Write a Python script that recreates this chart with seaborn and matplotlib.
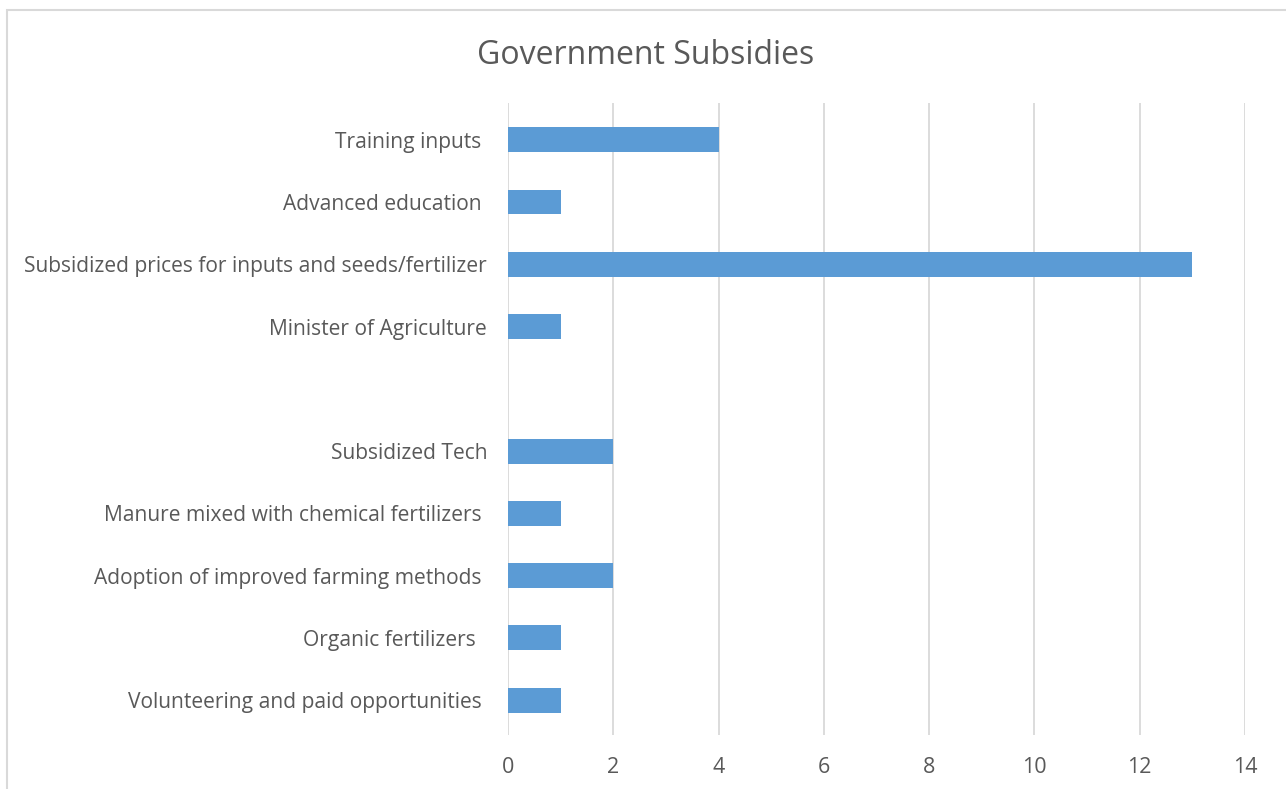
import matplotlib
matplotlib.use("Agg")
import matplotlib.pyplot as plt
import seaborn as sns
import pandas as pd
from matplotlib.patches import Rectangle

categories = [
    "Training inputs ",
    "Advanced education ",
    "Subsidized prices for inputs and seeds/fertilizer",
    "Minister of Agriculture",
    " ",
    "Subsidized Tech",
    "Manure mixed with chemical fertilizers ",
    "Adoption of improved farming methods ",
    "Organic fertilizers  ",
    "Volunteering and paid opportunities ",
]
values = [4, 1, 13, 1, 0, 2, 1, 2, 1, 1]
x_ticks = [0, 2, 4, 6, 8, 10, 12, 14]
title = "Government Subsidies"

sns.set_theme(style="white")
plt.rcParams['font.family'] = ['Open Sans', 'DejaVu Sans']
text_color = "#595959"
grid_color = "#D9D9D9"
bar_color = "#5B9BD5"

df = pd.DataFrame({"category": categories, "value": values})

fig = plt.figure(figsize=(12.86, 7.89), dpi=100)
ax = fig.add_axes([508 / 1286, 1 - 735 / 789, (1245 - 508) / 1286, (735 - 103) / 789])

sns.barplot(data=df, x="value", y="category", orient="h", color=bar_color,
            width=0.4, linewidth=0, saturation=1, ax=ax, order=categories)

ax.set_xlim(0, 14)
ax.set_ylim(9.56, -0.59)
ax.set_xticks(x_ticks)
ax.set_xticklabels([str(t) for t in x_ticks])
ax.xaxis.grid(True, color=grid_color, linewidth=1.3)
ax.set_axisbelow(True)
for s in ax.spines.values():
    s.set_visible(False)
ax.tick_params(axis="both", length=0, colors=text_color)
ax.tick_params(axis="y", pad=15, labelsize=15.1)
ax.tick_params(axis="x", pad=16, labelsize=15.5)
ax.set_xlabel("")
ax.set_ylabel("")

fig.text(646 / 1286, 1 - 56 / 789, title, ha="center", va="center",
         fontsize=23, color=text_color)

fig.patches.append(Rectangle((7 / 1286, -0.1), 1.2, 1 - 10 / 789 + 0.1,
                             transform=fig.transFigure, fill=False,
                             edgecolor=grid_color, linewidth=1.5))

fig.savefig("out.png", dpi=100, facecolor="white")
